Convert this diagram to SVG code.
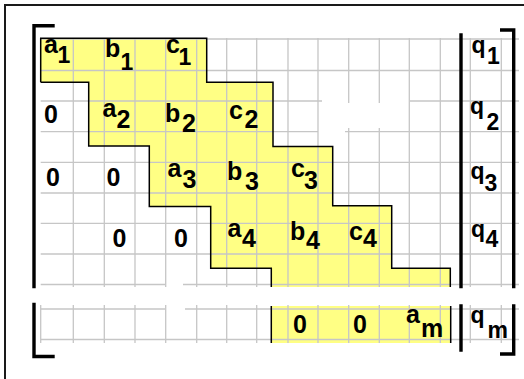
<svg xmlns="http://www.w3.org/2000/svg" width="524" height="379" viewBox="0 0 524 379">
<style>
.grid{stroke:#c6c6c6;stroke-width:1.3;fill:none}
.out{stroke:#000;stroke-width:1.5;fill:none}
.br{stroke:#000;stroke-width:3.4;fill:none;stroke-linecap:square}
.t{font-family:"Liberation Sans",Arial,sans-serif;font-weight:bold;font-size:25px;fill:#000}
.s{font-family:"Liberation Sans",Arial,sans-serif;font-weight:bold;font-size:23px;fill:#000}
</style>
<rect x="0" y="0" width="524" height="379" fill="#fff"/>
<g id="frame"><path d="M5,379 V5 H524" stroke="#1a1a1a" stroke-width="2" fill="none"/></g>
<g id="band-fill" fill="#ffff84">
<polygon points="40.7,38.3 206.7,38.3 206.7,82.3 273,82.3 273,146.5 332.7,146.5 332.7,205.8 391.7,205.8 391.7,268.3 450.3,268.3 450.3,287 271.3,287 271.3,268.3 210.7,268.3 210.7,206.5 149.3,206.5 149.3,146 88.7,146 88.7,82.3 40.7,82.3"/>
<rect x="271.3" y="306" width="179.4" height="37"/>
</g>
<g id="grid" class="grid">
<path d="M40.7,39 H519 M40.7,70.5 H519 M40.7,101 H322 M410,101 H519 M40.7,131.7 H318 M345,131.7 H519 M40.7,162.3 H519 M40.7,193 H519 M40.7,223.3 H519 M40.7,254 H519 M40.7,284.5 H165 M183,284.5 H519 M40.7,309 H165 M185,309 H519 M40.7,339.5 H519"/>
<path d="M73.3,38 V287 M104.3,38 V287 M135,38 V287 M165.7,38 V287 M196.7,38 V287 M226.7,38 V287 M256.7,38 V287 M288,38 V287 M318,38 V287 M348.7,38 V103 M348.7,128 V287 M379.3,38 V103 M379.3,128 V287 M409.3,38 V287 M440.3,38 V287 M470.3,38 V287 M501.3,38 V287"/>
<path d="M40.7,305 V343 M73.3,305 V343 M104.3,305 V343 M135,305 V343 M165.7,305 V343 M196.7,305 V343 M226.7,305 V343 M256.7,305 V343 M288,305 V343 M318,305 V343 M348.7,305 V343 M379.3,305 V343 M409.3,305 V343 M440.3,305 V343 M470.3,305 V343 M501.3,305 V343"/>
</g>
<g id="outline" class="out">
<path d="M40.7,82.3 V38.3 H206.7 V82.3 H273 V146.5 H332.7 V205.8 H391.7 V268.3 H450.3 V287"/>
<path d="M40.7,82.3 H88.7 V146 H149.3 V206.5 H210.7 V268.3 H271.3 V287"/>
<path d="M271.3,306 V343 M450.7,306 V343"/>
</g>
<g id="brackets" class="br">
<path d="M53,25.7 H34 V286.5"/>
<path d="M34,304.5 V356.5 H53"/>
<path d="M461,35 V286.5 M461,306 V350"/>
<path d="M501.7,30 H513.7 V286.5"/>
<path d="M513.7,306 V354 H501.7"/>
</g>
<g id="entries">
<text class="t" x="44" y="53.3">a</text><text class="s" x="57.5" y="63.3">1</text>
<text class="t" x="105" y="56.7">b</text><text class="s" x="120.5" y="70">1</text>
<text class="t" x="166" y="53.3">c</text><text class="s" x="178.5" y="65">1</text>
<text class="t" x="44" y="123.3">0</text>
<text class="t" x="102.5" y="116.7">a</text><text class="t" x="116.5" y="128.3">2</text>
<text class="t" x="165" y="121.7">b</text><text class="t" x="182" y="131.7">2</text>
<text class="t" x="229" y="119">c</text><text class="t" x="244.5" y="128">2</text>
<text class="t" x="46" y="186">0</text>
<text class="t" x="106.5" y="186">0</text>
<text class="t" x="167.5" y="176.7">a</text><text class="t" x="182.5" y="188.3">3</text>
<text class="t" x="227" y="180">b</text><text class="t" x="245" y="190">3</text>
<text class="t" x="291" y="176.7">c</text><text class="t" x="304" y="189.3">3</text>
<text class="t" x="112.5" y="247.3">0</text>
<text class="t" x="174" y="247.3">0</text>
<text class="t" x="227.5" y="237.3">a</text><text class="t" x="242" y="247.3">4</text>
<text class="t" x="290" y="240">b</text><text class="t" x="306" y="249.3">4</text>
<text class="t" x="349" y="240">c</text><text class="t" x="363" y="246.7">4</text>
<text class="t" x="293" y="332.7">0</text>
<text class="t" x="353" y="332.7">0</text>
<text class="t" x="406" y="323.3">a</text><text class="t" x="421" y="336.7">m</text>
</g>
<g id="rhs">
<text class="s" x="471.5" y="52.5">q</text><text class="s" x="487" y="64.3">1</text>
<text class="s" x="470" y="114">q</text><text class="s" x="486.5" y="130">2</text>
<text class="s" x="470.5" y="178.5">q</text><text class="s" x="484.5" y="191">3</text>
<text class="s" x="471" y="237">q</text><text class="s" x="485.5" y="246.7">4</text>
<text class="s" x="470.5" y="322.7">q</text><text class="s" x="487.5" y="337.7">m</text>
</g>
</svg>
